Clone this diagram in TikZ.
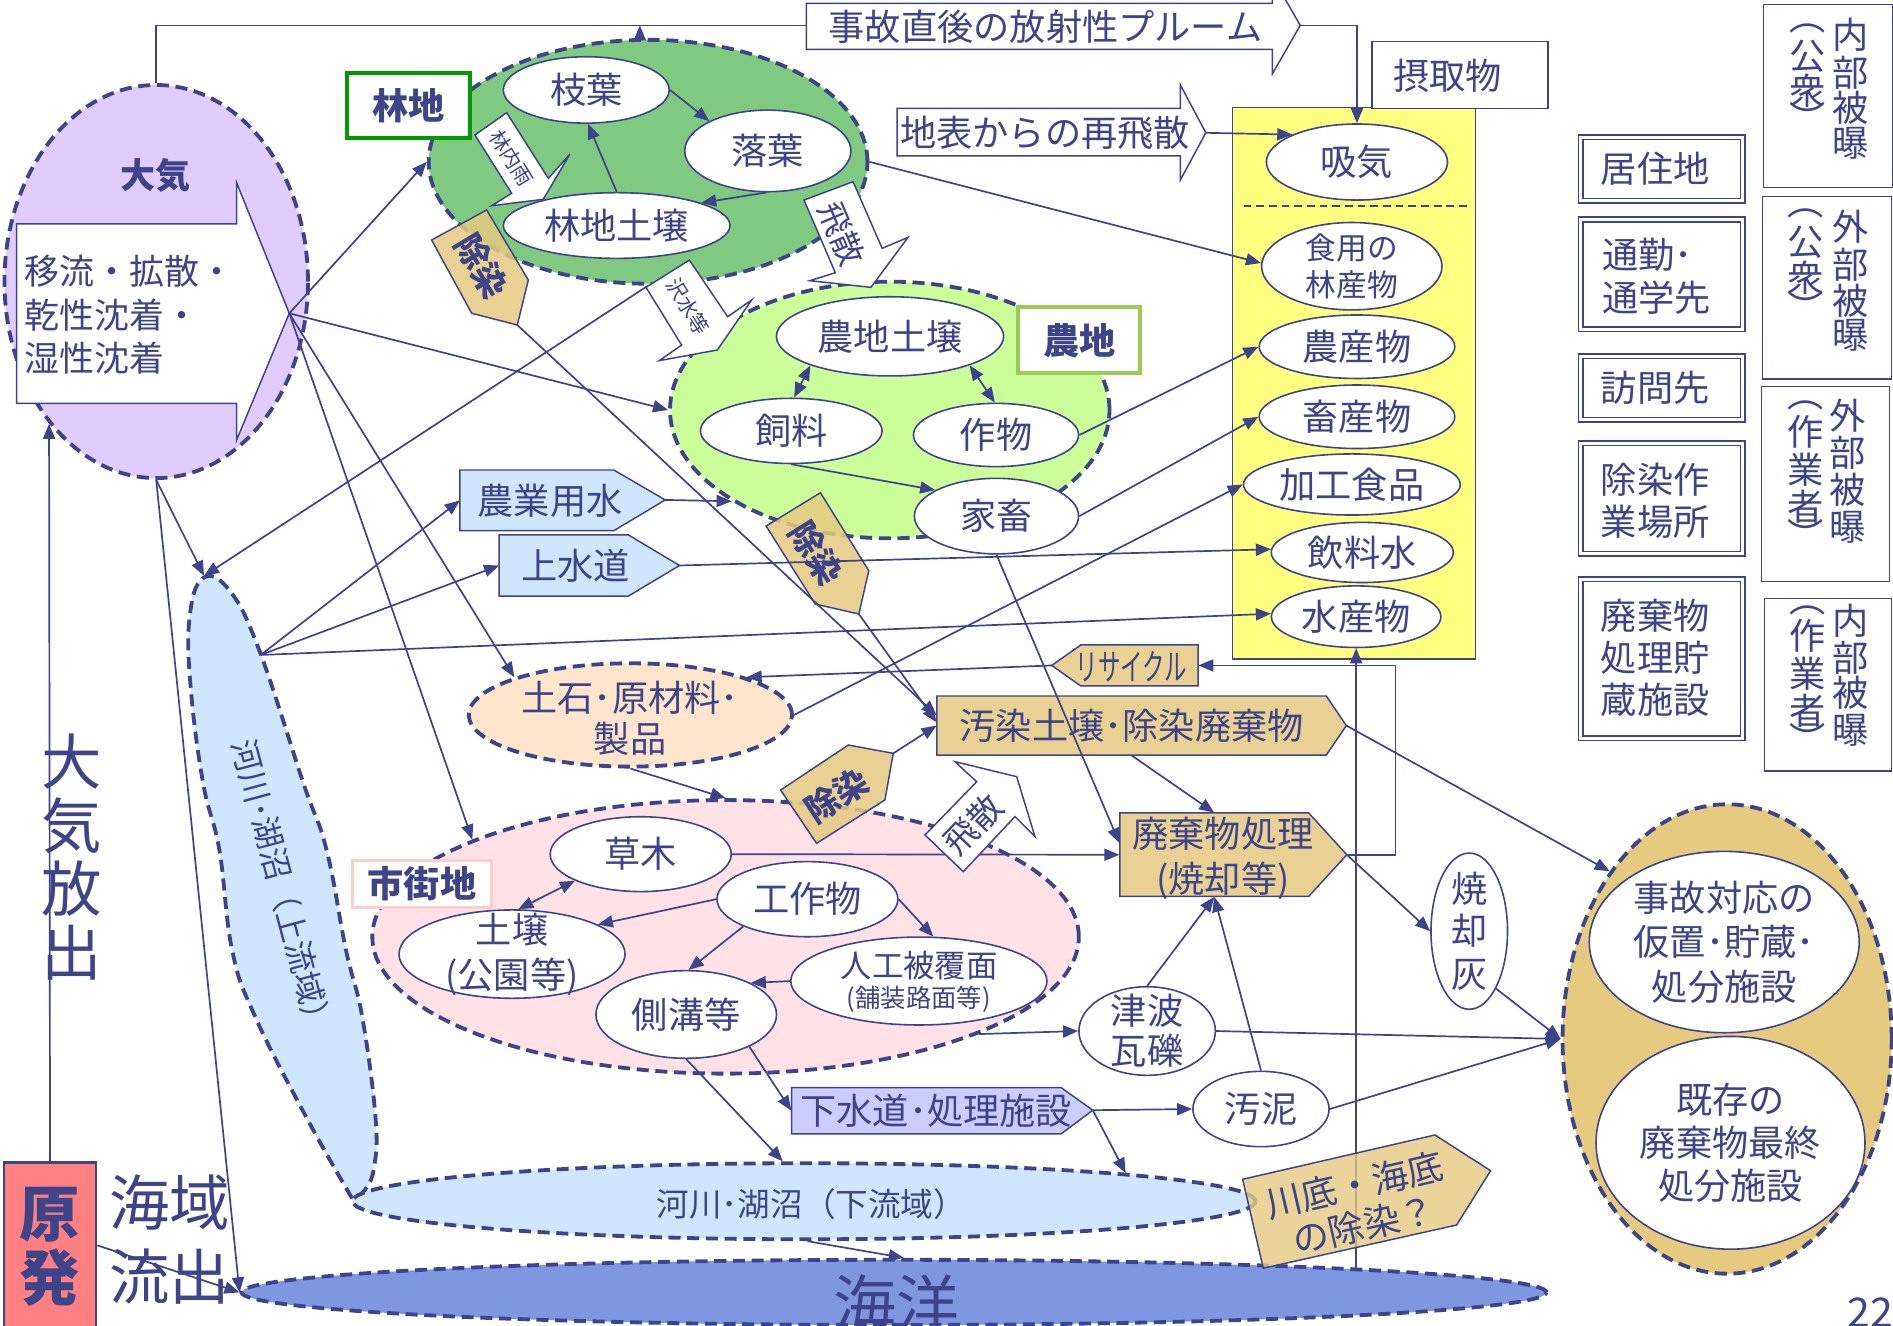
\documentclass[tikz,border=0pt]{standalone}
\usepackage{fontspec}
\usepackage{graphicx}
\setmainfont{Noto Sans CJK JP}
\usetikzlibrary{shapes.geometric,arrows.meta,calc}
\definecolor{nv}{RGB}{62,68,138}
\definecolor{cpur}{RGB}{225,204,255}
\definecolor{cfor}{RGB}{128,201,128}
\definecolor{cfarm}{RGB}{204,255,153}
\definecolor{cyel}{RGB}{255,255,128}
\definecolor{criv}{RGB}{208,230,255}
\definecolor{cpeach}{RGB}{255,229,204}
\definecolor{cpink}{RGB}{255,225,230}
\definecolor{ctan}{RGB}{229,202,128}
\definecolor{clav}{RGB}{204,204,255}
\definecolor{cocean}{RGB}{127,151,224}
\definecolor{cgen}{RGB}{255,128,128}
\definecolor{cgreen}{RGB}{0,153,0}
\definecolor{cfarmb}{RGB}{153,204,85}
\definecolor{cpinkb}{RGB}{255,204,204}
\newcommand\pfs[2]{\fontsize{#1}{#2}\selectfont}
\newcommand\fsA{\pfs{17.07}{21}}
\newcommand\fsE{\pfs{9.67}{11}}
\newcommand\fsF{\pfs{15.93}{19}}
\tikzset{
  mw/.style={minimum width=#1*0.2mm},
  mh/.style={minimum height=#1*0.2mm},
  reg/.style={draw=nv,line width=1.8pt,dash pattern=on 2mm off 1.1mm},
  rg/.style={ellipse,reg,inner sep=0pt},
  el/.style={ellipse,draw=nv,fill=white,line width=0.75pt,inner sep=0pt},
  tx/.style={text=nv,align=center,inner sep=0pt},
  con/.style={draw=nv,line width=0.8pt},
  arr/.style={con,-{Triangle[length=2.5mm,width=2mm]}},
  darr/.style={con,{Triangle[length=2.5mm,width=2mm]}-{Triangle[length=2.5mm,width=2mm]}},
  blk/.style={draw=nv,line width=0.7pt,fill=white,line join=miter},
  tanp/.style={draw=nv,line width=0.7pt,fill=ctan,fill opacity=0.85,line join=miter},
  box/.style={draw=nv,line width=0.6pt,fill=white,inner sep=0pt},
  dbox/.style={draw=nv,double=white,double distance=0.5mm,line width=0.25mm,inner sep=0pt},
}
\newcommand\EL[6]{\node[el,mw=#3,mh=#4] (#1) at (#2) {};\node[tx,font=#5] (#1-t) at (#2) {#6};}
\begin{document}
\begin{tikzpicture}[x=0.2mm,y=-0.2mm,every node/.append style={text=nv}]
\useasboundingbox (0,0) rectangle (1568,1098);
\fill[white] (0,0) rectangle (1568,1098);

% ---------- regions ----------
\node[rg,fill=cpur,mw=251.4,mh=325.6] (taiki) at (129.4,233.2) {};
\node[rg,fill=cfor,mw=363.4,mh=202] (forest) at (536.8,134) {};
\node[rg,fill=cfarm,mw=364,mh=212.6] (farm) at (737,339.6) {};
\node[rg,fill=cpeach,mw=267.8,mh=85.6] (doseki) at (522.2,592.2) {};
\node[rg,fill=cpink,mw=585.2,mh=226.6] (shigai) at (601,776) {};
\draw[reg,fill=criv] plot[smooth,tension=0.7] coordinates {(291.6,992.6) (253.5,925) (211.3,842) (192.3,787) (181.7,704) (168.3,649) (158,570) (157,512) (168,479) (190,489) (214.5,538) (251.4,649) (270.5,704) (286.6,787) (300,842) (311,925) (310,966) (302,986) (291.6,992.6)};
\node[rg,fill=criv,mw=748,mh=63] (karyu) at (666,995) {};
\node[rg,fill=cocean,mw=1081,mh=54] (kaiyo) at (740.5,1070.5) {};
\node[rg,fill=ctan,mw=272.6,mh=388.8] (jikoO) at (1430.6,860.6) {};
\node[draw=nv,fill=cyel,line width=0.7pt,mw=201.1,mh=456.9,inner sep=0pt] (yellowbox) at (1121.55,317.35) {};
\draw[nv,line width=0.8pt,dash pattern=on 1.3mm off 0.8mm] (1030,170.6) -- (1215,170.6);

\coordinate (jtop) at (169,477);
\coordinate (jr) at (216,542.5);
\coordinate (kaiyoup) at (1123.3,1050);
\coordinate (ptop) at (530,21);

% ---------- labels ----------
\node[draw=cgreen,line width=1.9pt,fill=white,mw=101.3,mh=54.4,inner sep=0pt,font=\bfseries\fsA] (rinchi) at (338.4,87.4) {林地};
\node[draw=cfarmb,line width=1.9pt,fill=white,mw=100.9,mh=54.6,inner sep=0pt,font=\bfseries\fsA] (nochi) at (894,281.9) {農地};
\node[draw=cpinkb,line width=1.5pt,fill=white,mw=114.7,mh=38.6,inner sep=0pt,font=\bfseries\fsA] (shigaichi) at (349.5,732.2) {市街地};

\node[tx,font=\bfseries\pfs{16.5}{20}] (taiki-t) at (128.5,145.6) {大気};
\draw[blk] (13.7,185.5) -- (196,185.5) -- (196,151.3) -- (239.6,259.5) -- (196,364.5) -- (196,334.1) -- (13.7,334.1) -- cycle;
\node[tx,align=left,anchor=west,font=\pfs{16.5}{20.5}] (ryu) at (20,261) {移流・拡散・\\乾性沈着・\\湿性沈着};
\coordinate (taikiT) at (239.6,259.5);

% plume & re-suspension
\draw[blk] (668,2.8) -- (1054,2.8) -- (1054,-19) -- (1077,21) -- (1054,61) -- (1054,40.9) -- (668,40.9) -- cycle;
\node[tx,font=\fsA] (plume) at (866,22) {事故直後の放射性プルーム};
\coordinate (plumeL) at (668,21);
\coordinate (plumeT) at (1077,21);
\draw[blk] (743,89.7) -- (977.7,89.7) -- (977.7,70.4) -- (998.8,110) -- (977.7,149.1) -- (977.7,129.2) -- (743,129.2) -- cycle;
\node[tx,font=\fsA] (chihyo) at (865.6,110) {地表からの再飛散};
\coordinate (chihyoT) at (998.8,110);

\node[box,mw=145.8,mh=55.5] (sesshu) at (1209.3,62.2) {};
\node[tx,font=\fsA] (sesshu-t) at (1199,63) {摂取物};

% ---------- text ellipses ----------
\EL{edaha}{485.6,74.5}{137.4}{55}{\fsA}{枝葉}
\EL{rakuyo}{636,125}{137.6}{67.6}{\fsA}{落葉}
\EL{rindo}{510.8,186.8}{187.8}{54.4}{\fsA}{林地土壌}
\EL{nodo}{737.2,278.6}{188.2}{65.6}{\fsA}{農地土壌}
\EL{shiryo}{655.4,356.9}{150.4}{54}{\fsA}{飼料}
\EL{saku}{825,360.3}{136.8}{52.4}{\fsA}{作物}
\EL{kachiku}{825.4,427.5}{136}{62.6}{\fsA}{家畜}
\EL{kyuki}{1124,134.2}{150}{63}{\fsA}{吸気}
\EL{rinsan}{1119.7,220.5}{149.4}{72.4}{\pfs{14.5}{17.6}}{食用の\\林産物}
\EL{nousan}{1124,287.2}{162}{52.6}{\fsA}{農産物}
\EL{chiku}{1124,345.2}{162}{52.6}{\fsA}{畜産物}
\EL{kakou}{1119.8,401.3}{179.6}{50.6}{\fsA}{加工食品}
\EL{inryo}{1128.4,457.6}{150.8}{49.8}{\fsA}{飲料水}
\EL{suisan}{1123.3,510.8}{140.4}{51}{\fsA}{水産物}
\EL{kusaki}{530.7,707.5}{150}{62}{\fsA}{草木}
\EL{kosaku}{668.8,744.8}{149.8}{62.2}{\fsA}{工作物}
\EL{dojo}{424.1,790.3}{187.2}{73.2}{\pfs{17.07}{21}}{土壌\\(公園等)}
\EL{sokko}{568.4,840.3}{149.6}{72.6}{\fsA}{側溝等}
\node[el,mw=212.2,mh=72.8] (jinko) at (761.1,812.6) {};
\node[tx,font=\pfs{14.8}{17}] (jinko-t) at (761.3,800) {人工被覆面};
\node[tx,font=\pfs{11.95}{14}] (jinko-s) at (761,828) {(舗装路面等)};
\EL{tsunami}{950.2,854}{113}{73.4}{\pfs{17.07}{18.8}}{津波\\瓦礫}
\EL{odei}{1044.5,918.6}{112.8}{62.4}{\fsA}{汚泥}
\EL{shoukyaku}{1217,771.3}{63.4}{129.4}{\pfs{17.07}{19.9}}{焼\\却\\灰}
\EL{jiko1}{1428.2,780.3}{223.6}{150.2}{\pfs{17.07}{20.9}}{事故対応の\\仮置･貯蔵･\\処分施設}
\EL{jiko2}{1433.4,946.6}{222.8}{176.2}{\pfs{17.07}{20.5}}{既存の\\廃棄物最終\\処分施設}

\node[tx,font=\pfs{17.07}{19.4}] (doseki-t) at (522,595) {土石･原材料･\\製品};
\node[tx,font=\pfs{15.36}{18}] (karyu-t) at (672,997) {河川･湖沼（下流域）};
\node[tx,font=\pfs{15.1}{17},rotate=-75] (joryu-t) at (234,735) {河川･湖沼（上流域）};

% ---------- water pentagons ----------
\draw[blk,fill=criv] (380.9,389.3) -- (508.4,389.3) -- (551,414.1) -- (508.4,439.6) -- (380.9,439.6) -- cycle;
\node[tx,font=\fsA] (nouyou) at (455.7,414.5) {農業用水};
\coordinate (nouyouL) at (380.9,414.5);
\coordinate (nouyouT) at (551,414.1);
\draw[blk,fill=criv] (413.4,443.1) -- (520.6,443.1) -- (562.8,468.4) -- (520.6,493.7) -- (413.4,493.7) -- cycle;
\node[tx,font=\fsA] (jousui) at (477,468.4) {上水道};
\coordinate (jousuiL) at (413.4,468.4);
\coordinate (jousuiT) at (562.8,468.4);

% ---------- tan pentagons ----------
\draw[tanp] (871.2,551.2) -- (895.2,534.2) -- (992.5,534.2) -- (992.5,568.2) -- (895.2,568.2) -- cycle;
\node[tx,font=\pfs{17.07}{19}] (recy) at (937,552) {\scalebox{0.62}[1]{リサイクル}};
\coordinate (recyT) at (871.2,551.2);
\coordinate (recyR) at (992.5,551.2);
\draw[tanp] (776.1,576.5) -- (1098.6,576.5) -- (1115.2,601) -- (1098.6,625.4) -- (776.1,625.4) -- cycle;
\node[tx,mw=322.5,mh=48.9,font=\fsA] (osen) at (937.4,601) {汚染土壌･除染廃棄物};
\coordinate (osenT) at (1115.2,601);
\draw[tanp] (927.6,673.4) -- (1084,673.4) -- (1115.6,708) -- (1084,742.5) -- (927.6,742.5) -- cycle;
\node[mw=156.4,mh=69.1,inner sep=0pt] (haiki) at (1005.8,708) {};
\node[tx,font=\pfs{17.07}{21.3}] (haiki-t) at (1013,711) {廃棄物処理\\(焼却等)};
\coordinate (haikiT) at (1115.6,708);
\coordinate (loopR) at (1155.8,708);
\draw[blk,fill=clav] (655.8,900.9) -- (879,900.9) -- (905.2,919.6) -- (879,939.1) -- (655.8,939.1) -- cycle;
\node[mw=223.2,mh=38.2,inner sep=0pt] (gesui) at (767.4,920) {};
\node[tx,font=\fsA] (gesui-t) at (775.5,920) {下水道･処理施設};
\coordinate (gesuiT) at (905.2,919.6);

\draw[tanp] (357.5,198.8) -- (403.1,173.9) -- (437.6,231.9) -- (428.5,269.2) -- (390.7,259.5) -- cycle;
\node[tx,font=\bfseries\fsF,rotate=-59] (josen1) at (399,220) {除染};
\coordinate (josen1T) at (428.5,269.2);
\draw[tanp] (634.6,435.7) -- (679.6,408.1) -- (719.6,472.7) -- (711.4,508.6) -- (675.2,500.3) -- cycle;
\node[tx,font=\bfseries\fsF,rotate=-58] (josen2) at (676,458) {除染};
\coordinate (josen2T) at (711.4,508.6);
\draw[tanp] (646.6,654.4) -- (702.7,617.1) -- (739.9,624) -- (733,662.6) -- (676.4,698.5) -- cycle;
\node[tx,font=\bfseries\fsF,rotate=33] (josen3) at (693,659) {除染};
\coordinate (josen3T) at (739.9,624);

% ---------- right boxes ----------
\node[dbox,mw=134.2,mh=52.6] (kyoju) at (1376.4,139.8) {};
\node[tx,font=\fsA] (kyoju-t) at (1371,140) {居住地};
\node[dbox,mw=134.2,mh=91.1] (tsukin) at (1376.4,227.35) {};
\node[tx,font=\pfs{17.07}{19.9},align=left,anchor=west] (tsukin-t) at (1326.8,228.8) {通勤･\\通学先};
\node[dbox,mw=134.2,mh=52.6] (homon) at (1376.4,321.2) {};
\node[tx,font=\fsA] (homon-t) at (1371,321) {訪問先};
\node[dbox,mw=134.2,mh=91.5] (sagyo) at (1376.4,412.75) {};
\node[tx,font=\pfs{17.07}{19.9}] (sagyo-t) at (1371,415) {除染作\\業場所};
\node[dbox,mw=134.2,mh=131.7] (shisetsu) at (1376.4,545.45) {};
\node[tx,font=\pfs{17.07}{19.9}] (shisetsu-t) at (1371,545) {廃棄物\\処理貯\\蔵施設};

\node[box,line width=0.5pt,mw=106.8,mh=151.2] (ex1) at (1514.4,79.7) {};
\node[box,line width=0.5pt,mw=106.7,mh=151.1] (ex2) at (1513.35,238.35) {};
\node[box,line width=0.5pt,mw=106,mh=161.6] (ex3) at (1512,400.9) {};
\node[box,line width=0.5pt,mw=105.2,mh=142.5] (ex4) at (1514.4,567.35) {};
\foreach \ch/\yy [count=\kk] in {内/29,部/60,被/89,曝/119} \node[tx,font=\fsA] (e1r\kk) at (1533,\yy) {\ch};
\foreach \ch/\yy [count=\kk] in {︵/24,公/47,衆/75,︶/97} \node[tx,font=\fsA] (e1l\kk) at (1497,\yy) {\ch};
\foreach \ch/\yy [count=\kk] in {外/188,部/219,被/249,曝/278} \node[tx,font=\fsA] (e2r\kk) at (1533,\yy) {\ch};
\foreach \ch/\yy [count=\kk] in {︵/177,公/201,衆/230,︶/254} \node[tx,font=\fsA] (e2l\kk) at (1496,\yy) {\ch};
\foreach \ch/\yy [count=\kk] in {外/344,部/375,被/406,曝/437} \node[tx,font=\fsA] (e3r\kk) at (1530,\yy) {\ch};
\foreach \ch/\yy [count=\kk] in {︵/336,作/358,業/389,者/420,︶/443} \node[tx,font=\fsA] (e3l\kk) at (1496,\yy) {\ch};
\foreach \ch/\yy [count=\kk] in {内/514,部/545,被/574,曝/605} \node[tx,font=\fsA] (e4r\kk) at (1533,\yy) {\ch};
\foreach \ch/\yy [count=\kk] in {︵/506,作/527,業/558,者/589,︶/612} \node[tx,font=\fsA] (e4l\kk) at (1497,\yy) {\ch};

% ---------- power plant ----------
\node[draw=nv,line width=1.2pt,fill=cgen,mw=76.1,mh=137,inner sep=0pt] (genpatsu) at (41.45,1031.5) {};
\node[tx,font=\bfseries\pfs{28.45}{30.16}] (genpatsu-t) at (41,1032.5) {原\\発};

% ---------- connectors ----------
\draw[con] (taiki.north) |- (plumeL);
\draw[arr] (plumeT) -| (kyuki.north);
\draw[arr] (ptop |- forest.north) -- (ptop);
\draw[arr] (chihyoT) -- (kyuki.157);
\draw[arr] (taikiT) -- (forest.west);
\draw[arr] (taikiT) -- (farm.west);
\draw[arr] (taikiT) -- (doseki.162);
\draw[arr] (taikiT) -- (shigai.159);
\draw[arr] (taiki.south) -- (jtop);
\draw[arr] (taiki.south) -- (kaiyo.west);
\draw[arr] (genpatsu.north) -- (taiki.233);
\draw[arr] (genpatsu.east) -- (kaiyo.west);
\draw[arr] (forest.south) -- (jtop);
\draw[arr] (jr) -- (nouyouL);
\draw[arr] (jr) -- (jousuiL);
\draw[arr] (jr) -- (suisan.178);
\draw[arr] (nouyouT) -- (farm.210);
\draw[arr] (jousuiT) -- (inryo.178);
\draw[arr] (edaha.east) -- (rakuyo.153);
\draw[arr] (rakuyo.268) -- (rindo.15);
\draw[arr] (rindo.north) -- (edaha.-87);
\draw[arr] (forest.east) -- (rinsan.178);
\draw[darr] (nodo.200) -- (shiryo.85);
\draw[darr] (nodo.-20) -- (saku.92);
\draw[arr] (shiryo.south) -- (kachiku.157);
\draw[arr] (saku.east) -- (nousan.west);
\draw[arr] (kachiku.east) -- (chiku.west);
\draw[arr] (kachiku.south) -- (haiki.173);
\draw[arr] (kusaki.east) -- (haiki.west);
\draw[arr] (doseki.east) -- (kakou.west);
\draw[arr] (recyT) -- (doseki.18);
\draw[arr] (haikiT) -- (loopR) |- (recyR);
\draw[arr] (doseki.south) -- (shigai.north);
\draw[arr] (josen1T) -- (osen.177);
\draw[arr] (josen2T) -- (osen.179);
\draw[arr] (josen3T) -- (osen.180);
\draw[arr] (osen.south) -- (haiki.north);
\draw[arr] (osenT) -- (jikoO.125);
\draw[arr] (haikiT) -- (shoukyaku.west);
\draw[arr] (shoukyaku.-65) -- (jikoO.west);
\draw[arr] (tsunami.north) -- (haiki.south);
\draw[arr] (tsunami.east) -- (jikoO.west);
\draw[arr] (odei.north) -- (haiki.south);
\draw[arr] (odei.east) -- (jikoO.west);
\draw[arr] (shigai.-21) -- (tsunami.west);
\draw[arr] (kosaku.west) -- (dojo.19);
\draw[darr] (kusaki.202) -- (dojo.82);
\draw[arr] (kosaku.203) -- (sokko.87);
\draw[arr] (kosaku.east) -- (jinko.72);
\draw[arr] (jinko.west) -- (sokko.26);
\draw[arr] (sokko.-27) -- (gesui.west);
\draw[arr] (sokko.south) -- (karyu.118);
\draw[arr] (gesuiT) -- (odei.west);
\draw[arr] (gesuiT) -- (karyu.5);
\draw[arr] (karyu.-85) -- (kaiyo.74);
\draw[arr] (kaiyoup) -- (suisan.south);

% ---------- white block arrows on top ----------
\draw[blk] (393.4,111.8) -- (419.7,93.3) -- (454.2,147.7) -- (472.1,127.6) -- (450,165.1) -- (407.3,170.4) -- (423.8,160.1) -- cycle;
\node[tx,font=\fsE,rotate=-58] (rinnai) at (424,131) {林内雨};
\draw[blk] (535.1,238) -- (571,215.4) -- (602.7,262.3) -- (622.6,248.5) -- (594.2,289.9) -- (546.1,298.7) -- (564.6,285.8) -- cycle;
\node[tx,font=\fsE,rotate=-58] (sawa) at (570,254) {沢水等};
\draw[blk] (666,165.7) -- (706.6,150.5) -- (730.7,205.7) -- (752.1,196.6) -- (721.4,238) -- (670.8,232.5) -- (691.9,225.9) -- cycle;
\node[tx,font=\pfs{15.4}{18},rotate=-67] (hisan1) at (697.4,193.3) {飛散};
\draw[blk] (791,630.9) -- (842.1,643.3) -- (857.3,693) -- (840.7,676.4) -- (797.9,722) -- (766.2,691.6) -- (809,647.5) -- cycle;
\node[tx,font=\fsF,rotate=46] (hisan2) at (806,683) {飛散};

\draw[tanp,fill opacity=0.8] (1029.3,976.8) -- (1188.6,940.1) -- (1234.7,969.7) -- (1206.5,1014.7) -- (1046.4,1050.5) -- cycle;
\node[tx,font=\pfs{17.07}{19.4},rotate=13] (kawazoko) at (1126,998) {川底・海底\\の除染？};

% ---------- free texts ----------
\node[tx,font=\pfs{28.45}{29.9}] (houshutsu) at (59,710) {大\\気\\放\\出};
\node[tx,align=left,font=\pfs{28.45}{34.7}] (kaiiki) at (140.5,1026.5) {海域\\流出};
\node[tx,font=\pfs{29.6}{32}] (kaiyo-t) at (742.7,1080) {海洋};
\node[tx,font=\pfs{19.3}{22}] (pageno) at (1549,1087) {22};
\end{tikzpicture}
\end{document}
